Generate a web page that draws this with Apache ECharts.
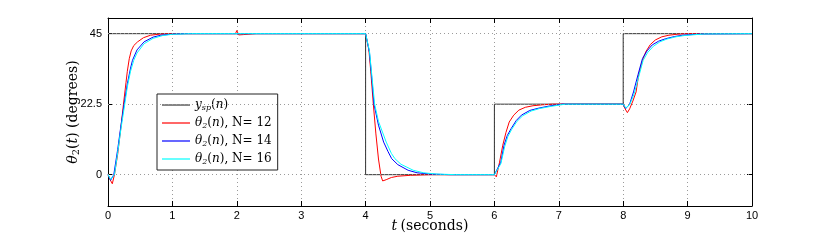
<!DOCTYPE html>
<html><head><meta charset="utf-8">
<script src="https://cdn.jsdelivr.net/npm/echarts@6/dist/echarts.min.js"></script>
<style>html,body{margin:0;padding:0;background:#fff}#c{width:830px;height:241px}</style>
</head><body><div id="c"></div>
<script>
// x ticks (seconds) and y tick labels (degrees)
const xTicks = [0,1,2,3,4,5,6,7,8,9,10];
const yTicks = [0, 22.5, 45];

// set-point y_sp(n)
const tSp = [0, 4, 4, 6, 6, 8, 8, 10];
const ySp = [45, 45, 0, 0, 22.5, 22.5, 45, 45];

// theta_2(n), N = 12
const tN12 = [0,0.03,0.067,0.1,0.15,0.2,0.24,0.28,0.3,0.33,0.36,0.4,0.46,0.55,0.66,0.8,1.0,1.98,2.0,2.03,2.1,2.3,4.0,4.02,4.05,4.08,4.12,4.16,4.2,4.24,4.265,4.32,4.4,4.5,4.7,5.0,6.0,6.03,6.08,6.13,6.18,6.23,6.3,6.38,6.48,6.6,6.75,6.9,8.0,8.03,8.065,8.1,8.15,8.2,8.24,8.3,8.35,8.42,8.5,8.6,8.71,8.85,9.0,10];
const yN12 = [0,-1.5,-2.9,0,6.5,15,22.5,29.5,33,37,39.5,41.2,42.4,43.7,44.5,44.85,45,45,46,44.6,44.7,45,45,44.8,40,33,22.5,13,5,-0.5,-2.0,-1.6,-0.9,-0.5,-0.2,0,0,-0.7,4,9.4,13.5,16.8,19,20.6,21.5,22,22.3,22.5,22.5,21,19.8,21,23.5,26.4,31.9,36.5,39.2,41.5,43,44,44.5,44.85,45,45];

// theta_2(n), N = 14
const tN14 = [0,0.04,0.09,0.15,0.2,0.25,0.3,0.35,0.38,0.45,0.56,0.7,0.82,1.0,1.2,1.98,2.0,2.05,4.0,4.03,4.06,4.1,4.13,4.2,4.28,4.35,4.405,4.5,4.66,4.8,5.0,5.3,6.0,6.03,6.1,6.15,6.2,6.26,6.34,6.42,6.55,6.68,6.85,7.05,8.0,8.04,8.1,8.16,8.23,8.3,8.37,8.45,8.55,8.66,8.8,8.92,9.2,10];
const yN14 = [0,-1.8,0,8,15.5,22.5,29,34,36.5,39.8,42.4,43.9,44.5,44.85,45,45,45.5,45,45,44.5,39,30,22.5,15.8,10.4,7.3,5.1,3.2,1.4,0.6,0.2,0,0,-0.5,4,9.4,12.5,14.7,17.3,19,20.5,21.2,21.9,22.5,22.5,21.1,22.5,26.4,31.9,37.1,39.5,41.4,42.6,43.4,44.1,44.5,44.9,45];

// theta_2(n), N = 16
const tN16 = [0,0.04,0.1,0.15,0.2,0.26,0.3,0.35,0.4,0.45,0.56,0.7,0.85,1.0,1.3,4.0,4.03,4.06,4.1,4.14,4.2,4.32,4.4,4.455,4.55,4.74,4.9,5.1,5.4,6.0,6.03,6.1,6.16,6.21,6.27,6.35,6.44,6.57,6.7,6.88,7.1,8.0,8.04,8.1,8.17,8.24,8.31,8.38,8.47,8.57,8.68,8.82,8.95,9.25,10];
const yN16 = [0,-1.5,0,7,14.5,22.5,28,33,36.5,38.8,41.8,43.5,44.4,44.8,45,45,44.5,39.5,31,22.5,17,10.4,6.8,5.1,3.3,1.4,0.6,0.2,0,0,-0.4,3.5,9,12.2,14.5,17,18.8,20.3,21.1,21.8,22.5,22.5,21.3,22.3,25.8,31.2,36.5,39,41,42.4,43.3,44,44.4,44.9,45];

const names = ['sp','n12','n14','n16'];
const legendText = {
  sp: '{i|y}{sub|sp}{n|(}{i|n}{n|)}',
  n12: '{i|θ}{sub|2}{n|(}{i|n}{n|), N= 12}',
  n14: '{i|θ}{sub|2}{n|(}{i|n}{n|), N= 14}',
  n16: '{i|θ}{sub|2}{n|(}{i|n}{n|), N= 16}'
};
const yTitle = '{i|θ}{sub|2}{n|(}{i|t}{n|) (degrees)}';
const xTitle = '{i|t} {n|(seconds)}';
const zip = (t, y) => t.map((v, i) => [v, y[i]]);

const serif = '"DejaVu Serif", "Liberation Serif", serif';
const richLeg = {
  i: {fontFamily: serif, fontStyle: 'italic', fontSize: 12, color: '#000'},
  n: {fontFamily: serif, fontSize: 12, color: '#000'},
  sub: {fontFamily: serif, fontSize: 8, color: '#000', fontStyle: 'italic', padding: [6, 0, 0, 0]}
};
const richAx = {
  i: {fontFamily: serif, fontStyle: 'italic', fontSize: 14, color: '#000'},
  n: {fontFamily: serif, fontSize: 14, color: '#000'},
  sub: {fontFamily: serif, fontSize: 10, color: '#000', padding: [7, 0, 0, 0]}
};

const gridColor = '#9a9a9a';
const chart = echarts.init(document.getElementById('c'), null, {renderer: 'canvas'});
const line = (name, data, color, z) => ({
  name, type: 'line', data, showSymbol: false, symbol: 'none', z,
  lineStyle: {color, width: 1}, itemStyle: {color}, animation: false
});
const axLine = {show: true, onZero: false, lineStyle: {color: '#000', width: 1}};
chart.setOption({
  animation: false,
  grid: {left: 108, right: 78, top: 18, bottom: 35, containLabel: false, outerBoundsMode: 'none'},
  graphic: [{
    type: 'text', x: 73, y: 112, rotation: Math.PI / 2, z: 10,
    style: {text: yTitle, rich: richAx, align: 'center', verticalAlign: 'middle'}
  }],
  xAxis: [{
    type: 'value', min: 0, max: 10, interval: 1, position: 'bottom',
    axisLine: axLine,
    axisTick: {inside: true, length: 5, lineStyle: {color: '#000'}},
    axisLabel: {color: '#000', fontFamily: '"Liberation Sans", Arial, sans-serif', fontSize: 11, margin: 4},
    splitLine: {show: true, lineStyle: {color: gridColor, type: [1, 3], width: 1}},
    name: xTitle, nameLocation: 'middle', nameGap: 13, nameMoveOverlap: false,
    nameTextStyle: {rich: richAx, verticalAlign: 'top'}
  }, {
    type: 'value', min: 0, max: 10, interval: 1, position: 'top',
    axisLine: axLine,
    axisTick: {inside: true, length: 5, lineStyle: {color: '#000'}},
    axisLabel: {show: false}, splitLine: {show: false}
  }],
  yAxis: [{
    type: 'value', min: -10, max: 50, position: 'left',
    axisLine: axLine,
    axisTick: {show: true, inside: true, length: 5, customValues: yTicks, lineStyle: {color: '#000'}},
    axisLabel: {color: '#000', fontFamily: '"Liberation Sans", Arial, sans-serif', fontSize: 11, margin: 6, customValues: yTicks},
    splitLine: {show: false}
  }, {
    type: 'value', min: -10, max: 50, position: 'right',
    axisLine: axLine,
    axisTick: {show: true, inside: true, length: 5, customValues: yTicks, lineStyle: {color: '#000'}},
    axisLabel: {show: false}, splitLine: {show: false}
  }],
  legend: {
    data: names, orient: 'vertical', left: 157, top: 94,
    backgroundColor: '#fff', borderColor: '#222', borderWidth: 1,
    padding: [3, 6, 3, 5], itemGap: 2, itemWidth: 28, itemHeight: 1.2, icon: 'rect',
    formatter: n => legendText[n],
    textStyle: {rich: richLeg, lineHeight: 16}
  },
  series: [
    {
      name: 'grid', type: 'line', data: [], z: 1, silent: true,
      markLine: {
        silent: true, symbol: 'none', label: {show: false}, animation: false,
        lineStyle: {color: gridColor, type: [1, 3], width: 1},
        data: yTicks.map(v => ({yAxis: v}))
      }
    },
    line('sp', zip(tSp, ySp), '#333333', 2),
    line('n12', zip(tN12, yN12), '#ff0000', 3),
    line('n14', zip(tN14, yN14), '#0000ff', 4),
    line('n16', zip(tN16, yN16), '#00ffff', 5)
  ]
});
</script></body></html>
